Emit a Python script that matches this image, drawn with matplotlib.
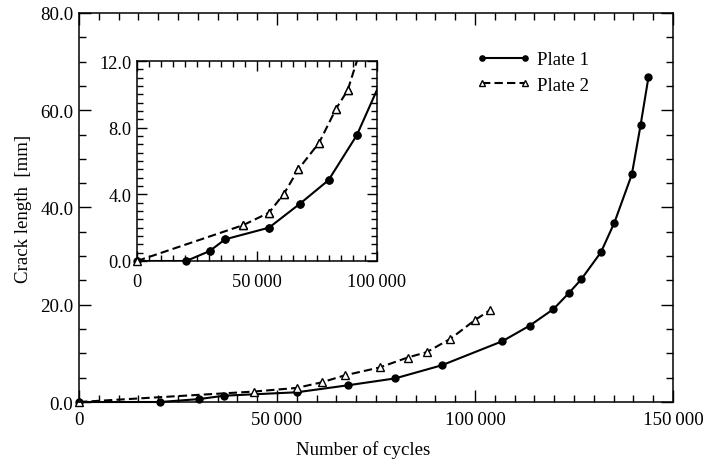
import matplotlib
matplotlib.use("Agg")
import matplotlib.pyplot as plt
from matplotlib.ticker import MultipleLocator, FuncFormatter

plt.rcParams['font.family'] = ['Liberation Serif', 'DejaVu Serif']

# Crack growth measurements
cycles_plate1 = [0, 20500, 30300, 36700, 55000, 68000, 79800, 91600, 106900,
                 113800, 119800, 123700, 126800, 131800, 135200, 139600,
                 141800, 143800]
crack_plate1 = [0.0, 0.0, 0.6, 1.3, 2.0, 3.45, 4.85, 7.55, 12.5, 15.7, 19.1,
                22.4, 25.2, 30.8, 36.9, 46.8, 56.9, 66.8]

cycles_plate2 = [0, 44200, 55000, 61300, 67200, 75900, 83000, 87800, 93800,
                 99900, 103800]
crack_plate2 = [0.0, 2.15, 2.9, 4.05, 5.5, 7.1, 9.15, 10.25, 13.0, 16.8, 18.9]

labels = ["Plate 1", "Plate 2"]

FS = 13.6
P1_STYLE = dict(color='black', marker='o', ms=5.0, mfc='black', mec='black')
P2_STYLE = dict(color='black', marker='^', ms=6.2, mfc='white', mec='black',
                mew=1.0)


def thousands(v, pos):
    return f"{v:,.0f}".replace(",", "\u2009")


def one_decimal(v, pos):
    return f"{v:.1f}"


def draw_series(ax, clip):
    h1, = ax.plot(cycles_plate1, crack_plate1, lw=1.5, label=labels[0],
                  clip_on=clip, **P1_STYLE)
    h2, = ax.plot(cycles_plate2, crack_plate2, lw=1.5,
                  linestyle=(0, (4, 2)), label=labels[1], clip_on=clip,
                  **P2_STYLE)
    return h1, h2


def draw_markers_in_range(ax, xmax, ymax):
    # markers sitting on the frame stay whole while the lines are clipped
    for xs, ys, st in ((cycles_plate1, crack_plate1, P1_STYLE),
                       (cycles_plate2, crack_plate2, P2_STYLE)):
        pts = [(x, y) for x, y in zip(xs, ys) if x <= xmax and y <= ymax]
        ax.plot([p[0] for p in pts], [p[1] for p in pts], linestyle='none',
                clip_on=False, zorder=3, **st)


def style_axes(ax, fs, major_len, minor_len):
    for s in ax.spines.values():
        s.set_linewidth(1.1)
    ax.tick_params(which='both', direction='in', top=True, right=True,
                   width=1.0, labelsize=fs)
    ax.tick_params(which='major', length=major_len)
    ax.tick_params(which='minor', length=minor_len)
    ax.tick_params(axis='y', pad=4)


fig = plt.figure(figsize=(7.04, 4.60), dpi=100)

# Main axes
ax = fig.add_axes([0.1122, 0.1239, 0.8438, 0.8457])
h1, h2 = draw_series(ax, clip=False)
ax.set_xlim(0, 150000)
ax.set_ylim(0, 80)
ax.xaxis.set_major_locator(MultipleLocator(50000))
ax.xaxis.set_minor_locator(MultipleLocator(5000))
ax.yaxis.set_major_locator(MultipleLocator(20))
ax.yaxis.set_minor_locator(MultipleLocator(5))
ax.xaxis.set_major_formatter(FuncFormatter(thousands))
ax.yaxis.set_major_formatter(FuncFormatter(one_decimal))
style_axes(ax, FS, 8.5, 5.3)
ax.tick_params(axis='x', pad=6.5)
ax.set_xlabel("Number of cycles", fontsize=FS)
ax.xaxis.set_label_coords(0.478, -0.097)
ax.set_ylabel("Crack length  [mm]", fontsize=FS, labelpad=6)

leg = ax.legend(handles=[h1, h2], loc='upper left',
                bbox_to_anchor=(476 / 704, 1 - 52 / 460),
                bbox_transform=fig.transFigure, frameon=False, fontsize=FS,
                numpoints=2, handlelength=2.9, handletextpad=0.35,
                labelspacing=0.45, borderpad=0, borderaxespad=0,
                markerscale=0.75)

# Inset showing the early growth stage
axi = fig.add_axes([137 / 704, 1 - 262 / 460, 240 / 704, 200 / 460])
draw_series(axi, clip=True)
draw_markers_in_range(axi, 100000, 12)
axi.set_xlim(0, 100000)
axi.set_ylim(0, 12)
axi.xaxis.set_major_locator(MultipleLocator(50000))
axi.xaxis.set_minor_locator(MultipleLocator(5000))
axi.yaxis.set_major_locator(MultipleLocator(4))
axi.yaxis.set_minor_locator(MultipleLocator(0.5))
axi.xaxis.set_major_formatter(FuncFormatter(thousands))
axi.yaxis.set_major_formatter(FuncFormatter(one_decimal))
style_axes(axi, 13.2, 7.5, 4.5)
axi.tick_params(axis='x', pad=8.5)

fig.savefig("out.png", dpi=100)
